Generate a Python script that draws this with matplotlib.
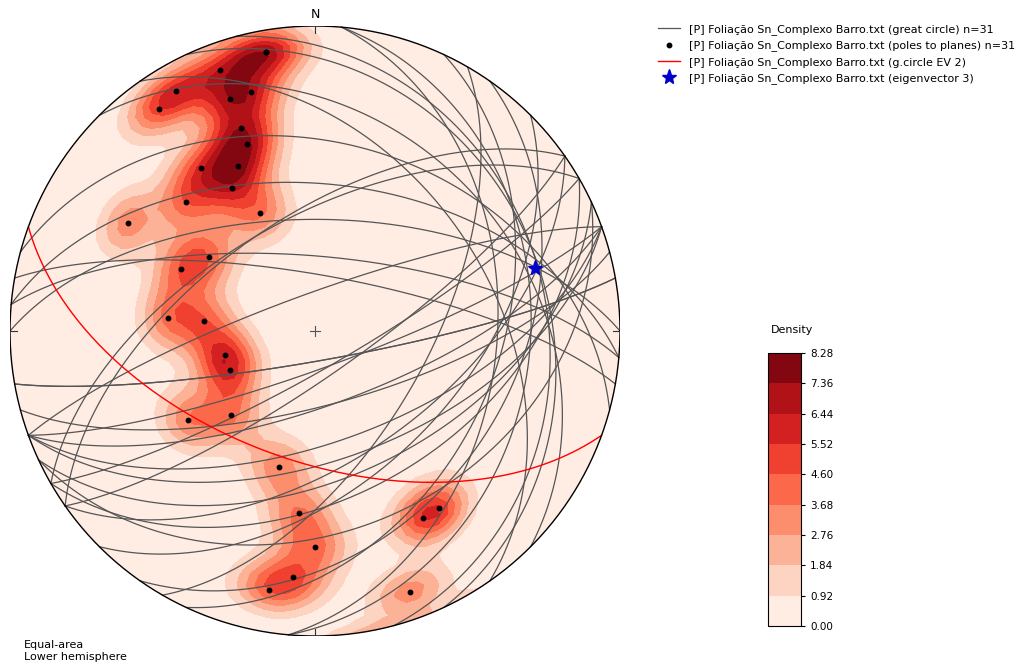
import numpy as np
import matplotlib
matplotlib.use("Agg")
import matplotlib.pyplot as plt

# Foliação Sn - Complexo Barro (dip direction / dip)
dip_dir = [170, 160, 150, 165, 160, 145, 160, 160, 155, 145, 150, 135, 155, 120, 125, 115, 95, 95,
           75, 65, 55, 45, 15, 5, 325, 330, 0, 5, 10, 340, 170]
dip = [82, 80, 80, 70, 70, 78, 60, 55, 50, 55, 45, 50, 35, 60, 35, 40, 40, 30,
       25, 25, 42, 32, 38, 50, 60, 60, 60, 70, 75, 80, 82]

# autovetores
ev2_plane = (200, 55)     # dip direction, dip
ev3_line = (74, 26)       # trend, plunge

levels = [0.00, 0.92, 1.84, 2.76, 3.68, 4.60, 5.52, 6.44, 7.36, 8.28]
fisher_k = 100
name = "[P] Foliação Sn_Complexo Barro.txt"


def line_vec(trend, plunge):
    t, p = np.radians(trend), np.radians(plunge)
    return np.array([np.cos(p) * np.sin(t), np.cos(p) * np.cos(t), -np.sin(p)])


def project(v):
    # equal-area, lower hemisphere
    v = np.atleast_2d(v)
    v = np.where(v[:, 2:3] > 0, -v, v)
    k = 1.0 / np.sqrt(1 - v[:, 2])
    return v[:, 0] * k, v[:, 1] * k


def great_circle(dd, dp, n=200):
    s = line_vec(dd - 90, 0)
    d = line_vec(dd, dp)
    a = np.linspace(0, np.pi, n)[:, None]
    return project(np.cos(a) * s + np.sin(a) * d)


fig = plt.figure(figsize=(10.31, 6.66), dpi=100)
W, H = 1031, 666
ax = fig.add_axes([10 / W, 30 / H, 610 / W, 610 / H])
ax.set_xlim(-1, 1)
ax.set_ylim(-1, 1)
ax.set_aspect("equal")
ax.axis("off")

# polos
pole_tr = (np.array(dip_dir) + 180) % 360
pole_pl = 90 - np.array(dip)
poles = np.array([line_vec(t, p) for t, p in zip(pole_tr, pole_pl)])
n = len(poles)

# densidade: suavização de Fisher (múltiplos da distribuição uniforme)
g = np.linspace(-1, 1, 61)
X, Y = np.meshgrid(g, g)
r = np.clip(np.hypot(X, Y), 1e-9, 1)
az = np.arctan2(X, Y)
th = 2 * np.arcsin(r / np.sqrt(2))
G = np.column_stack([(np.sin(th) * np.sin(az)).ravel(), (np.sin(th) * np.cos(az)).ravel(),
                     (-np.cos(th)).ravel()])
cd = np.abs(G @ poles.T)
dens = fisher_k / n * np.exp(fisher_k * (cd - 1)).sum(axis=1)
dens = np.clip(dens, 0, levels[-1]).reshape(X.shape)

cs = ax.contourf(X, Y, dens, levels=levels, cmap="Reds", vmin=0, vmax=levels[-1])
prim = plt.Circle((0, 0), 1, transform=ax.transData, fill=False)
cs.set_clip_path(prim)

for dd, dp in zip(dip_dir, dip):
    x, y = great_circle(dd, dp)
    gc, = ax.plot(x, y, color="#555555", lw=0.9, zorder=3)
gc.set_label(name + " (great circle) n=%d" % n)

px, py = project(poles)
ax.plot(px, py, "o", color="k", ms=3.2, zorder=4, label=name + " (poles to planes) n=%d" % n)

x, y = great_circle(*ev2_plane)
ax.plot(x, y, color="red", lw=1, zorder=4, label=name + " (g.circle EV 2)")
sx, sy = project(line_vec(*ev3_line))
ax.plot(sx, sy, "*", color="#0000cc", ms=11, zorder=5, label=name + " (eigenvector 3)")

# círculo primitivo e marcas
t = np.linspace(0, 2 * np.pi, 400)
ax.plot(np.cos(t), np.sin(t), color="k", lw=1, zorder=6)
tk = 0.022
for x0, y0 in [(0, 1), (0, -1)]:
    ax.plot([x0, x0], [y0 - tk, y0 + tk], color="#333333", lw=0.8, zorder=6)
for x0, y0 in [(1, 0), (-1, 0)]:
    ax.plot([x0 - tk, x0 + tk], [y0, y0], color="#333333", lw=0.8, zorder=6)
ax.plot([-0.018, 0.018], [0, 0], color="#555555", lw=0.8, zorder=6)
ax.plot([0, 0], [-0.018, 0.018], color="#555555", lw=0.8, zorder=6)
ax.text(0, 1.018, "N", ha="center", va="bottom", fontsize=9)

fig.legend(loc="upper left", bbox_to_anchor=(648 / W, 1 - 14 / H), frameon=False, fontsize=8,
           labelspacing=0.5, numpoints=1)

cax = fig.add_axes([768 / W, 40 / H, 33 / W, 273 / H])
cb = fig.colorbar(cs, cax=cax, ticks=levels, format="%.2f")
cb.ax.tick_params(labelsize=7.5, length=3)
fig.text(792 / W, 1 - 330 / H, "Density", ha="center", va="center", fontsize=8)

fig.text(24 / W, 4 / H, "Equal-area\nLower hemisphere", ha="left", va="bottom", fontsize=8)

fig.savefig("out.png")
